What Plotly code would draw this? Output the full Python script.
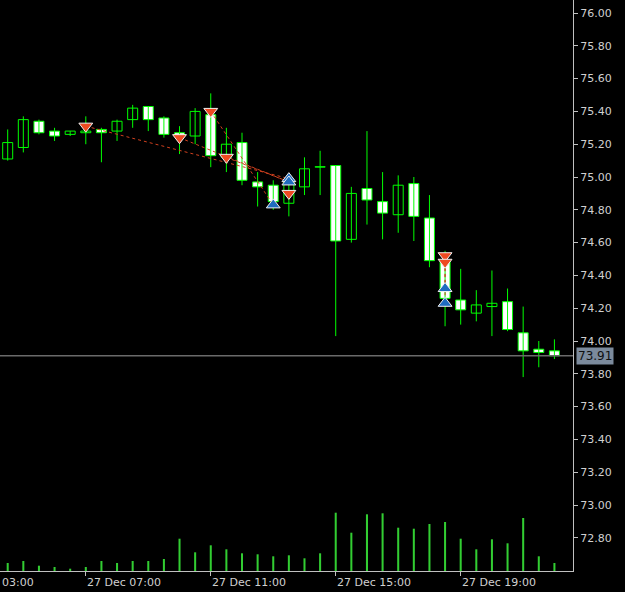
import plotly.graph_objects as go

# ---- data (30-minute bars) ----
bar_index = list(range(36))
opens  = [75.11, 75.18, 75.34, 75.28, 75.26, 75.27, 75.29, 75.28, 75.35, 75.43,
          75.36, 75.27, 75.25, 75.38, 75.12, 75.21, 74.97, 74.95, 74.84, 74.94,
          75.06, 75.07, 74.62, 74.93, 74.85, 74.77, 74.96, 74.75, 74.49, 74.25,
          74.17, 74.21, 74.24, 74.05, 73.95, 73.94]
highs  = [75.29, 75.37, 75.35, 75.30, 75.28, 75.37, 75.30, 75.35, 75.44, 75.43,
          75.37, 75.31, 75.42, 75.51, 75.30, 75.27, 75.03, 74.98, 75.02, 75.12,
          75.16, 75.07, 74.94, 75.28, 75.03, 75.01, 75.00, 74.89, 74.55, 74.44,
          74.31, 74.43, 74.32, 74.21, 74.00, 74.01]
lows   = [75.10, 75.15, 75.26, 75.22, 75.25, 75.20, 75.09, 75.22, 75.30, 75.28,
          75.24, 75.14, 75.20, 75.06, 75.03, 74.95, 74.82, 74.80, 74.76, 74.89,
          74.89, 74.03, 74.60, 74.71, 74.62, 74.66, 74.61, 74.45, 74.09, 74.10,
          74.12, 74.03, 74.06, 73.78, 73.84, 73.89]
closes = [75.21, 75.35, 75.27, 75.25, 75.28, 75.28, 75.27, 75.34, 75.42, 75.35,
          75.26, 75.25, 75.40, 75.13, 75.20, 74.98, 74.94, 74.85, 74.98, 75.05,
          75.06, 74.61, 74.90, 74.86, 74.78, 74.95, 74.76, 74.49, 74.26, 74.19,
          74.22, 74.23, 74.07, 73.94, 73.93, 73.91]
volumes = [80, 100, 53, 40, 23, 40, 100, 80, 100, 100, 120, 323, 187, 257, 217,
           177, 167, 147, 157, 127, 177, 583, 383, 567, 577, 433, 423, 470, 490,
           323, 217, 317, 277, 530, 147, 80]

# trade markers
sell_idx   = [5, 11, 13, 14, 18, 28, 28]
sell_price = [75.31, 75.24, 75.40, 75.12, 74.90, 74.52, 74.48]
buy_idx    = [17, 18, 18, 28, 28]
buy_price  = [74.83, 74.99, 74.97, 74.32, 74.23]
# trade connector lines (open index, open price, close index, close price)
link_from_idx   = [5, 11, 13, 14, 28, 28]
link_from_price = [75.31, 75.24, 75.40, 75.12, 74.52, 74.48]
link_to_idx     = [18, 18, 17, 18, 28, 28]
link_to_price   = [74.99, 74.97, 74.83, 74.97, 74.32, 74.23]

price_ticks = [72.80, 73.00, 73.20, 73.40, 73.60, 73.80, 74.00, 74.20, 74.40,
               74.60, 74.80, 75.00, 75.20, 75.40, 75.60, 75.80, 76.00]
time_tick_idx = [5, 13, 21, 29]
time_label_pos = [-0.4, 5, 13, 21, 29]
time_labels = ["03:00", "27 Dec 07:00", "27 Dec 11:00", "27 Dec 15:00", "27 Dec 19:00"]

GREEN = "#00ff00"
VOLCOL = "#32cd32"
AXCOL = "#c0c0c0"
TXTCOL = "#d0d0d0"
FONT = "DejaVu Sans"

fig = go.Figure()

# volumes on hidden secondary axis
fig.add_trace(go.Bar(x=bar_index, y=volumes, width=0.13, marker=dict(color=VOLCOL, line=dict(width=0)),
                     yaxis="y2", hoverinfo="skip", showlegend=False))

# wicks
wx, wy = [], []
for i, h, l in zip(bar_index, highs, lows):
    wx += [i, i, None]
    wy += [l, h, None]
fig.add_trace(go.Scatter(x=wx, y=wy, mode="lines", line=dict(color=GREEN, width=1),
                         hoverinfo="skip", showlegend=False))

# bodies
base = [min(o, c) for o, c in zip(opens, closes)]
height = [max(abs(c - o), 0.003) for o, c in zip(opens, closes)]
fill = ["#000000" if c >= o else "#ffffff" for o, c in zip(opens, closes)]
fig.add_trace(go.Bar(x=bar_index, y=height, base=base, width=0.64,
                     marker=dict(color=fill, line=dict(color=GREEN, width=1)),
                     hoverinfo="skip", showlegend=False))

# trade connectors
for a, pa, b, pb in zip(link_from_idx, link_from_price, link_to_idx, link_to_price):
    fig.add_trace(go.Scatter(x=[a, b], y=[pa, pb], mode="lines",
                             line=dict(color="#d0401e", width=1, dash="3px,3px"),
                             hoverinfo="skip", showlegend=False))

# arrows
fig.add_trace(go.Scatter(x=sell_idx, y=sell_price, mode="markers",
                         marker=dict(symbol="triangle-down", size=12, color="#ee4a22",
                                     line=dict(color="#f0f0f0", width=1)),
                         hoverinfo="skip", showlegend=False))
fig.add_trace(go.Scatter(x=buy_idx, y=buy_price, mode="markers",
                         marker=dict(symbol="triangle-up", size=12, color="#1f6cc0",
                                     line=dict(color="#f0f0f0", width=1)),
                         hoverinfo="skip", showlegend=False))

last = closes[-1]
fig.add_shape(type="line", xref="paper", x0=0, x1=1, yref="y", y0=last, y1=last,
              line=dict(color="#6a6a6a", width=1.5))

annotations = [dict(x=1, xref="paper", y=last, yref="y", xanchor="left", yanchor="middle",
                    xshift=3, text=f"{last:.2f}", showarrow=False, bgcolor="#7b8a9c",
                    font=dict(family=FONT, size=12, color="#101010"), borderpad=1)]
for pos, lab in zip(time_label_pos, time_labels):
    annotations.append(dict(x=pos, xref="x", y=0, yref="paper", xanchor="left", yanchor="top",
                            yshift=-3, xshift=-1, text=lab, showarrow=False,
                            font=dict(family=FONT, size=11, color=TXTCOL)))

fig.update_layout(
    width=625, height=592,
    margin=dict(l=0, r=52, t=0, b=21),
    paper_bgcolor="#000000", plot_bgcolor="#000000",
    barmode="overlay", showlegend=False,
    xaxis=dict(range=[-0.493, 36.19], showgrid=False, zeroline=False,
               tickvals=time_tick_idx, showticklabels=False, ticks="outside", ticklen=4,
               tickcolor=AXCOL, showline=True, linecolor=AXCOL, linewidth=1),
    yaxis=dict(range=[72.5976, 76.0793], side="right", showgrid=False, zeroline=False,
               tickvals=price_ticks, ticktext=[f"{v:.2f}" for v in price_ticks],
               ticks="outside", ticklen=4, tickcolor=AXCOL, showline=True,
               linecolor=AXCOL, linewidth=1,
               tickfont=dict(family=FONT, size=11, color=TXTCOL)),
    yaxis2=dict(range=[0, 5710], overlaying="y", visible=False),
    annotations=annotations,
)

fig.write_html("out.html")
